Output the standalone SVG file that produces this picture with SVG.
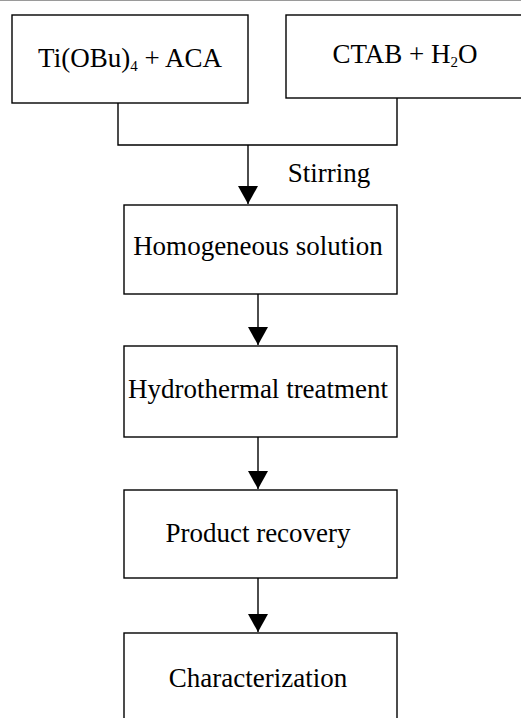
<svg xmlns="http://www.w3.org/2000/svg" width="521" height="718" viewBox="0 0 521 718">
  <style>
    .box { fill: #ffffff; stroke: #000000; stroke-width: 1.4; }
    .lbl { font-family: "Liberation Serif", "Times New Roman", serif; font-size: 27px; fill: #000000; text-anchor: middle; }
    .sub { font-size: 15px; }
    .conn { fill: none; stroke: #000000; stroke-width: 1.4; }
  </style>
  <defs>
    <marker id="arrow" markerUnits="userSpaceOnUse" markerWidth="19" markerHeight="20" refX="18" refY="10" orient="auto">
      <path d="M0,0 L18,10 L0,20 z" fill="#000000"/>
    </marker>
  </defs>
  <rect x="0" y="0" width="521" height="718" fill="#ffffff"/>
  <line x1="0" y1="0.5" x2="521" y2="0.5" stroke="#9a9a9a" stroke-width="1"/>

  <g id="node-tiobu">
    <rect class="box" x="12" y="15" width="236" height="88"/>
    <text class="lbl" x="130" y="67">Ti(OBu)<tspan class="sub" dy="4">4</tspan><tspan dy="-4"> + ACA</tspan></text>
  </g>
  <g id="node-ctab">
    <rect class="box" x="286" y="15" width="245" height="83"/>
    <text class="lbl" x="405" y="63">CTAB + H<tspan class="sub" dy="4">2</tspan><tspan dy="-4">O</tspan></text>
  </g>
  <g id="node-homogeneous">
    <rect class="box" x="124" y="205" width="273" height="89"/>
    <text class="lbl" x="258" y="255">Homogeneous solution</text>
  </g>
  <g id="node-hydrothermal">
    <rect class="box" x="124" y="346" width="273" height="91"/>
    <text class="lbl" x="258" y="398">Hydrothermal treatment</text>
  </g>
  <g id="node-recovery">
    <rect class="box" x="124" y="490" width="273" height="88"/>
    <text class="lbl" x="258" y="542">Product recovery</text>
  </g>
  <g id="node-characterization">
    <rect class="box" x="124" y="633" width="273" height="100"/>
    <text class="lbl" x="258" y="687">Characterization</text>
  </g>

  <g id="connectors">
    <polyline class="conn" points="118,103 118,145 397,145 397,98"/>
    <line class="conn" x1="248" y1="145" x2="248" y2="204" marker-end="url(#arrow)"/>
    <text class="lbl" x="329" y="182">Stirring</text>
    <line class="conn" x1="258" y1="294" x2="258" y2="345" marker-end="url(#arrow)"/>
    <line class="conn" x1="258" y1="437" x2="258" y2="489" marker-end="url(#arrow)"/>
    <line class="conn" x1="258" y1="578" x2="258" y2="632" marker-end="url(#arrow)"/>
  </g>
</svg>
